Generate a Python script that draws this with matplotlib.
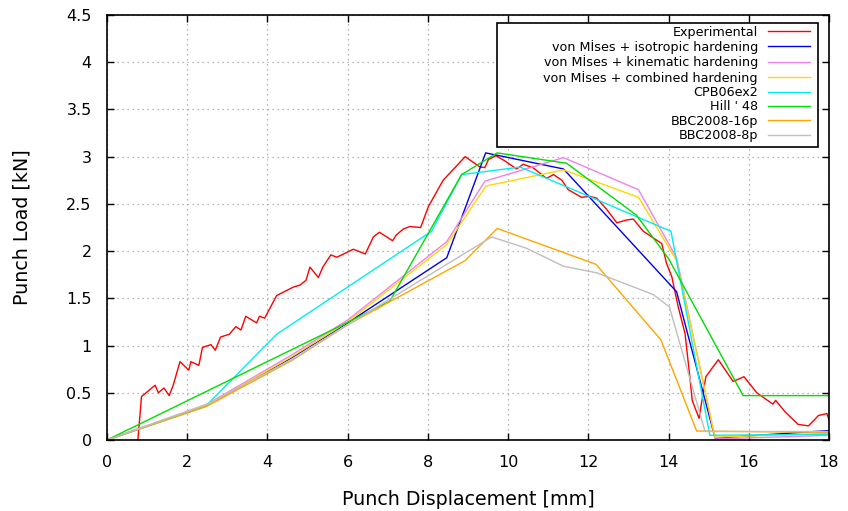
import matplotlib
matplotlib.use("Agg")
import matplotlib.pyplot as plt
from matplotlib.patches import Rectangle
from matplotlib.ticker import FuncFormatter

# experimental punch test
exp_x = [0.77, 0.86, 1.20, 1.28, 1.42, 1.55, 1.65, 1.82, 2.04, 2.09, 2.29, 2.38, 2.59, 2.70,
         2.83, 3.05, 3.21, 3.34, 3.46, 3.73, 3.80, 3.93, 4.23, 4.65, 4.81, 4.96, 5.06, 5.27,
         5.38, 5.58, 5.73, 6.14, 6.44, 6.64, 6.79, 7.12, 7.21, 7.39, 7.55, 7.82, 8.01, 8.38,
         8.93, 9.30, 9.42, 9.51, 9.70, 9.92, 10.21, 10.38, 10.63, 10.96, 11.13, 11.34, 11.50,
         11.83, 12.04, 12.21, 12.46, 12.71, 12.96, 13.12, 13.37, 13.62, 13.83, 13.95, 14.08,
         14.24, 14.41, 14.53, 14.59, 14.76, 14.93, 15.24, 15.61, 15.88, 16.20, 16.60, 16.67,
         16.90, 17.23, 17.49, 17.74, 17.95, 18.0]
exp_y = [0.0, 0.46, 0.58, 0.50, 0.55, 0.47, 0.58, 0.83, 0.74, 0.83, 0.79, 0.98, 1.01, 0.95,
         1.09, 1.12, 1.20, 1.165, 1.31, 1.24, 1.31, 1.29, 1.53, 1.62, 1.64, 1.69, 1.83, 1.72,
         1.83, 1.96, 1.935, 2.02, 1.97, 2.15, 2.20, 2.11, 2.17, 2.235, 2.26, 2.25, 2.47, 2.75,
         3.00, 2.89, 2.885, 2.97, 3.01, 2.955, 2.87, 2.92, 2.88, 2.77, 2.81, 2.75, 2.65,
         2.57, 2.58, 2.56, 2.44, 2.30, 2.33, 2.34, 2.21, 2.14, 2.08, 1.87, 1.73,
         1.41, 1.13, 0.67, 0.42, 0.23, 0.67, 0.85, 0.62, 0.67, 0.50, 0.38, 0.42,
         0.30, 0.165, 0.15, 0.26, 0.28, 0.21]

iso_x = [0, 2.5, 4.6, 6.0, 8.47, 9.44, 11.38, 14.2, 15.16, 18]
iso_y = [0, 0.37, 0.87, 1.24, 1.93, 3.04, 2.87, 1.57, 0.02, 0.10]

kin_x = [0, 2.5, 4.6, 6.0, 8.47, 9.42, 11.38, 13.25, 14.2, 15.16, 18]
kin_y = [0, 0.38, 0.90, 1.27, 2.10, 2.74, 2.99, 2.65, 1.93, 0.01, 0.05]

comb_x = [0, 2.5, 4.6, 6.0, 8.47, 9.45, 11.38, 13.25, 14.2, 15.16, 18]
comb_y = [0, 0.37, 0.88, 1.25, 2.07, 2.69, 2.86, 2.57, 1.90, 0.03, 0.07]

cpb_x = [0, 2.44, 4.23, 8.09, 8.84, 10.3, 14.06, 15.03, 18]
cpb_y = [0, 0.35, 1.12, 2.21, 2.81, 2.89, 2.21, 0.05, 0.06]

hill_x = [0, 5.97, 7.05, 8.84, 9.73, 11.46, 13.2, 14.0, 15.86, 18]
hill_y = [0, 1.24, 1.47, 2.81, 3.04, 2.93, 2.38, 1.92, 0.47, 0.47]

b16_x = [0, 2.5, 4.6, 6.0, 8.93, 9.73, 12.19, 13.81, 14.70, 18]
b16_y = [0, 0.36, 0.84, 1.22, 1.90, 2.24, 1.86, 1.06, 0.095, 0.08]

b8_x = [0, 2.5, 4.6, 6.0, 9.59, 10.46, 11.38, 12.21, 13.62, 14.02, 14.91, 18]
b8_y = [0, 0.38, 0.85, 1.22, 2.15, 2.03, 1.84, 1.77, 1.54, 1.41, 0.09, 0.09]

series = [
    (exp_x, exp_y, "#ff0000", "Experimental"),
    (iso_x, iso_y, "#0000ee", "von Mİses + isotropic hardening"),
    (kin_x, kin_y, "#ee82ee", "von Mİses + kinematic hardening"),
    (comb_x, comb_y, "#ffd700", "von Mİses + combined hardening"),
    (cpb_x, cpb_y, "#00eeee", "CPB06ex2"),
    (hill_x, hill_y, "#00dd00", "Hill ' 48"),
    (b16_x, b16_y, "#ffa500", "BBC2008-16p"),
    (b8_x, b8_y, "#bebebe", "BBC2008-8p"),
]

W, H = 848, 511
fig = plt.figure(figsize=(W / 100, H / 100), dpi=100)
ax = fig.add_axes([107 / W, 1 - 440 / H, 722 / W, 425 / H])

for xs, ys, col, lab in series:
    ax.plot(xs, ys, color=col, lw=1.0, label=lab)

ax.set_xlim(0, 18)
ax.set_ylim(0, 4.5)
ax.set_xticks(range(0, 19, 2))
ax.set_yticks([i * 0.5 for i in range(10)])
ax.yaxis.set_major_formatter(FuncFormatter(lambda v, p: "%g" % v))
ax.tick_params(direction="in", top=True, right=True, length=5, width=1,
               labelsize=11.5, pad=11)
ax.grid(True, color="#a0a0a0", linestyle=(0, (1, 3)), lw=0.9)
for s in ax.spines.values():
    s.set_linewidth(1.2)

ax.set_xlabel("Punch Displacement [mm]", fontsize=13.7, labelpad=14)
ax.set_ylabel("Punch Load [kN]", fontsize=13.7, labelpad=25)

# gnuplot-like key: labels right-aligned, samples on the right, boxed
key_box = Rectangle((497 / W, 1 - 147 / H), 321 / W, 124 / H,
                    transform=fig.transFigure, facecolor="white",
                    edgecolor="black", lw=1.2, zorder=4, clip_on=False)
ax.add_patch(key_box)
leg = ax.legend(loc="upper right", bbox_to_anchor=(810 / W, 1 - 25.5 / H),
                bbox_transform=fig.transFigure, markerfirst=False, fontsize=9.2,
                frameon=False, borderaxespad=0, borderpad=0,
                labelspacing=0.11, handlelength=3.3, handletextpad=0.78)
leg.set_zorder(5)

fig.savefig("out.png", dpi=100)
